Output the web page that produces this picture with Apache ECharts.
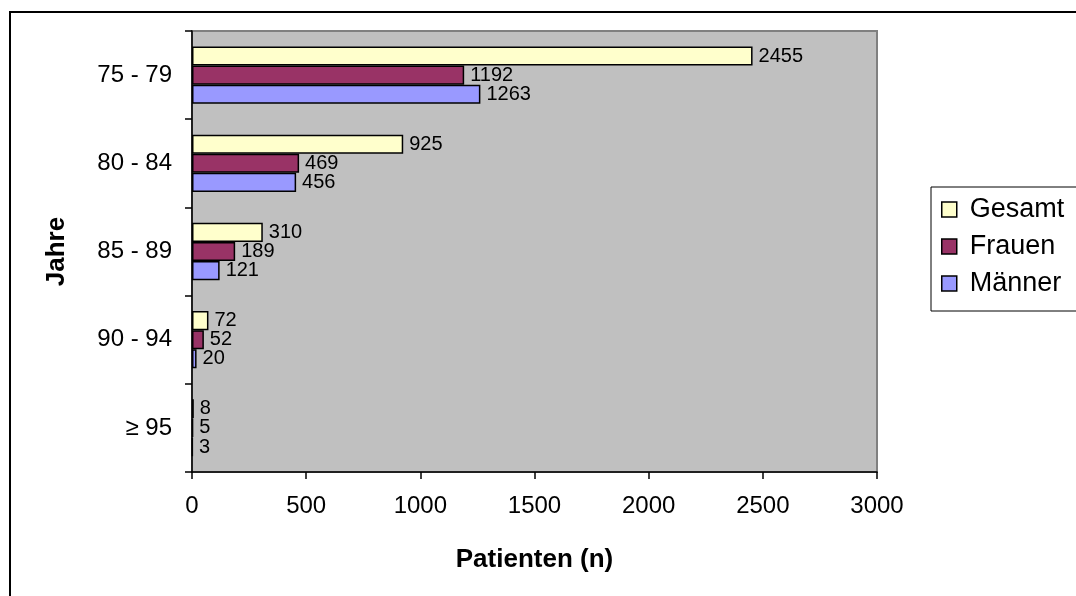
<!DOCTYPE html>
<html>
<head>
<meta charset="utf-8">
<script src="https://cdn.jsdelivr.net/npm/echarts@6/dist/echarts.min.js"></script>
<style>
html,body{margin:0;padding:0;background:#fff;}
#chart{width:1076px;height:596px;}
</style>
</head>
<body>
<div id="chart"></div>
<script>
const categories = ['75 - 79', '80 - 84', '85 - 89', '90 - 94', '≥ 95'];
const seriesNames = ['Gesamt', 'Frauen', 'Männer'];
const gesamt = [2455, 925, 310, 72, 8];
const frauen = [1192, 469, 189, 52, 5];
const maenner = [1263, 456, 121, 20, 3];
const xTicks = [0, 500, 1000, 1500, 2000, 2500, 3000];

const colors = ['#FFFFCC', '#993366', '#9999FF'];
const FONT = '"Liberation Sans", Arial, sans-serif';
const values = [gesamt, frauen, maenner];

const chart = echarts.init(document.getElementById('chart'), null, {renderer: 'canvas'});
chart.setOption({
  animation: false,
  textStyle: {fontFamily: FONT, color: '#000'},
  graphic: [{
    type: 'rect', z: 100, silent: true,
    shape: {x: 10, y: 12, width: 1200, height: 800},
    style: {fill: 'none', stroke: '#000', lineWidth: 2}
  }],
  grid: {
    left: 192, top: 31, right: 199, bottom: 124,
    show: true, backgroundColor: '#C0C0C0', borderColor: '#808080', borderWidth: 2
  },
  legend: {
    orient: 'vertical',
    left: 931, top: 187,
    data: seriesNames,
    itemWidth: 15, itemHeight: 15, itemGap: 10,
    padding: [9, 40, 14, 10],
    backgroundColor: '#fff', borderColor: '#000', borderWidth: 1,
    icon: 'rect',
    itemStyle: {borderColor: '#000', borderWidth: 1.5},
    textStyle: {fontFamily: FONT, fontSize: 27, color: '#000', padding: [0, 0, 0, 8]}
  },
  xAxis: {
    type: 'value',
    min: xTicks[0], max: xTicks[xTicks.length - 1], interval: xTicks[1] - xTicks[0],
    name: 'Patienten (n)', nameLocation: 'middle', nameGap: 75,
    nameTextStyle: {fontFamily: FONT, fontSize: 26, fontWeight: 'bold', color: '#000'},
    axisLine: {show: true, lineStyle: {color: '#000', width: 1.5}},
    axisTick: {show: true, length: 7, lineStyle: {color: '#000', width: 1.5}},
    axisLabel: {fontFamily: FONT, fontSize: 24, color: '#000', margin: 22,
      formatter: v => String(v)},
    splitLine: {show: false}
  },
  yAxis: {
    type: 'category', inverse: true,
    data: categories,
    name: 'Jahre', nameLocation: 'middle', nameGap: 122, nameRotate: 90,
    nameTextStyle: {fontFamily: FONT, fontSize: 26, fontWeight: 'bold', color: '#000'},
    axisLine: {show: true, lineStyle: {color: '#000', width: 1.5}},
    axisTick: {show: true, length: 7, lineStyle: {color: '#000', width: 1.5}},
    axisLabel: {fontFamily: FONT, fontSize: 24, color: '#000', margin: 20},
    splitLine: {show: false}
  },
  series: seriesNames.map((name, i) => ({
    name: name,
    type: 'bar',
    data: values[i],
    barGap: '0%',
    barCategoryGap: '35%',
    itemStyle: {color: colors[i], borderColor: '#000', borderWidth: 1.5},
    label: {
      show: true, position: 'right', distance: 6,
      fontFamily: FONT, fontSize: 20, color: '#000'
    }
  }))
});
</script>
</body>
</html>
